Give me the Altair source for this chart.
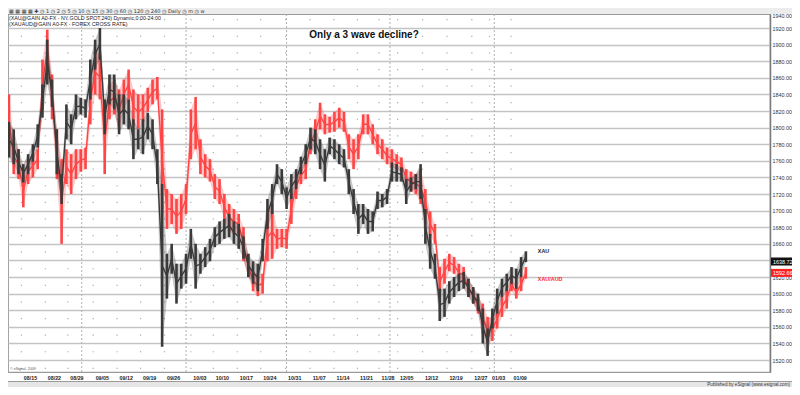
import altair as alt
import pandas as pd

# ---- data (one sample per trading day) ----
xau_hi = [1807,1798,1774,1756,1768,1780,1804,1852,1906,1858,
          1798,1744,1828,1816,1840,1836,1834,1882,1906,1920,
          1834,1864,1864,1840,1840,1834,1810,1798,1810,1818,
          1810,1774,1732,1648,1660,1636,1636,1648,1678,1660,
          1648,1656,1666,1680,1687,1690,1696,1687,1684,1669,
          1648,1639,1636,1666,1714,1732,1756,1750,1728,1744,
          1750,1765,1780,1800,1798,1786,1774,1788,1786,1780,
          1774,1750,1726,1708,1708,1702,1699,1723,1720,1726,
          1758,1756,1752,1738,1740,1744,1756,1702,1672,1648,
          1606,1606,1615,1620,1624,1626,1618,1608,1600,1582,
          1558,1582,1606,1618,1624,1632,1630,1644,1651]
xau_lo = [1764,1756,1744,1734,1744,1759,1776,1812,1852,1825,
          1744,1708,1786,1780,1810,1816,1812,1834,1870,1882,
          1792,1828,1822,1792,1804,1798,1762,1774,1768,1786,
          1774,1732,1536,1594,1624,1588,1606,1612,1642,1606,
          1624,1632,1639,1656,1660,1666,1668,1660,1654,1642,
          1620,1612,1603,1639,1678,1696,1732,1720,1702,1714,
          1726,1744,1756,1774,1768,1750,1735,1768,1762,1756,
          1752,1720,1696,1672,1684,1672,1675,1702,1704,1708,
          1735,1735,1735,1708,1723,1726,1714,1660,1630,1618,
          1567,1572,1588,1596,1603,1606,1596,1588,1579,1540,
          1525,1558,1576,1596,1603,1612,1606,1620,1638]
aud_hi = [1840,1786,1774,1744,1762,1768,1774,1882,1918,1864,
          1798,1762,1774,1768,1774,1774,1776,1858,1894,1888,
          1822,1852,1858,1846,1858,1870,1846,1840,1840,1848,
          1858,1861,1822,1726,1720,1714,1720,1732,1822,1837,
          1786,1768,1762,1744,1738,1720,1708,1702,1696,1680,
          1648,1627,1624,1624,1696,1708,1678,1678,1678,1720,
          1744,1752,1762,1792,1810,1830,1816,1813,1819,1824,
          1819,1792,1786,1792,1816,1816,1804,1792,1786,1776,
          1774,1768,1764,1750,1747,1744,1750,1726,1699,1684,
          1632,1642,1648,1644,1636,1632,1618,1606,1596,1588,
          1572,1570,1582,1596,1606,1620,1608,1620,1632]
aud_lo = [1774,1744,1738,1704,1732,1740,1750,1822,1870,1810,
          1738,1660,1732,1720,1738,1747,1750,1804,1840,1834,
          1744,1810,1816,1798,1822,1834,1804,1798,1807,1819,
          1828,1834,1702,1678,1684,1672,1678,1696,1762,1774,
          1744,1740,1735,1714,1708,1690,1675,1672,1672,1639,
          1620,1603,1597,1600,1639,1642,1654,1656,1654,1684,
          1714,1732,1738,1768,1780,1798,1792,1794,1795,1800,
          1795,1762,1750,1762,1792,1792,1780,1768,1762,1756,
          1752,1750,1747,1728,1723,1720,1708,1696,1669,1660,
          1596,1612,1627,1624,1615,1612,1596,1588,1576,1552,
          1540,1543,1558,1572,1582,1603,1594,1603,1618]

xau_last = 1638.72
aud_last_text = "1592.66"

tick_labels = ["08/15","08/22","08/29","09/05","09/12","09/19","09/26","10/03",
               "10/10","10/17","10/24","10/31","11/07","11/14","11/21","11/28",
               "12/05","12/12","12/19","12/27","01/03","01/09"]
tick_pos = [4.5,9.5,14.2,19.5,24.5,29.4,34.4,39.9,44.6,49.6,54.5,59.7,64.8,
            69.8,74.7,79.2,83.1,88.3,93.4,98.6,102.3,106.8]
month_lines = [15.2, 37.0, 58.0, 79.6, 101.4]
y_ticks = list(range(1520, 1921, 20))

W, H = 762, 358
FONT = "Liberation Sans"

xs = alt.Scale(domain=[-0.2, 159.0], nice=False, zero=False)
ys = alt.Scale(domain=[1505.6, 1936.9], nice=False, zero=False)
yaxis = alt.Axis(orient="right", values=y_ticks, format=".2f", labelFontSize=5.4,
                 labelFont=FONT, labelColor="#333333", ticks=False, labelPadding=2,
                 domainColor="#7a7a7a", domainWidth=1.5, grid=True,
                 gridColor="#c4c4c4", gridWidth=1.4, title=None)


def X(f):
    return alt.X(f, type="quantitative", scale=xs, axis=None, title=None)


def Y(f):
    return alt.Y(f, type="quantitative", scale=ys, axis=yaxis, title=None)


n = len(xau_hi)
black = pd.DataFrame({"k": list(range(n)), "hi": xau_hi, "lo": xau_lo})
black["mid"] = (black.hi + black.lo) / 2
red = pd.DataFrame({"k": list(range(n)), "hi": aud_hi, "lo": aud_lo})
red["mid"] = (red.hi + red.lo) / 2

ticks = pd.DataFrame({"k": tick_pos, "lab": tick_labels})
dots = pd.DataFrame([{"k": t - 1.9, "v": v} for t in tick_pos
                     for v in range(1510, 1931, 20)])
months = pd.DataFrame({"k": month_lines})
one = pd.DataFrame({"a": [0]})

BLACK = "#3a3a3a"
RED = "#ff4545"

grid_layer = alt.Chart(dots).mark_square(size=1.5, color="#9a9a9a", opacity=0.8).encode(
    x=X("k"), y=Y("v"))
month_layer = alt.Chart(months).mark_rule(color="#b0b0b0", strokeDash=[2, 2], strokeWidth=1).encode(
    x=X("k"))


def series(df, color):
    band = alt.Chart(df).mark_area(color=color, opacity=0.28).encode(
        x=X("k"), y=Y("lo"), y2="hi")
    rules = alt.Chart(df).mark_rule(color=color, strokeWidth=2.6).encode(
        x=X("k"), y=Y("lo"), y2="hi")
    line = alt.Chart(df).mark_line(color=color, strokeWidth=1.4).encode(
        x=X("k"), y=Y("mid"))
    return [band, rules, line]


last_blk = pd.DataFrame({"v": [xau_last], "t": [f"{xau_last:.2f}"]})
last_red = pd.DataFrame({"v": [(aud_hi[-1] + aud_lo[-1]) / 2], "t": [aud_last_text]})
box_b = alt.Chart(last_blk).mark_rule(color="#111111", strokeWidth=8).encode(
    x=alt.value(W + 1), x2=alt.value(W + 22), y=Y("v"))
box_b_t = alt.Chart(last_blk).mark_text(color="white", fontSize=5.4, font=FONT, align="left",
                                        baseline="middle", dx=2).encode(
    x=alt.value(W + 1), y=Y("v"), text="t:N")
box_r = alt.Chart(last_red).mark_rule(color="#ff2020", strokeWidth=8).encode(
    x=alt.value(W + 1), x2=alt.value(W + 22), y=Y("v"))
box_r_t = alt.Chart(last_red).mark_text(color="white", fontSize=5.4, font=FONT, align="left",
                                        baseline="middle", dx=2).encode(
    x=alt.value(W + 1), y=Y("v"), text="t:N")

ann_b = pd.DataFrame({"k": [n + 1.5], "v": [xau_hi[-1]], "t": ["XAU"]})
ann_r = pd.DataFrame({"k": [n + 1.5], "v": [aud_lo[-1]], "t": ["XAU/AUD"]})
ann_b_l = alt.Chart(ann_b).mark_text(color="#222222", fontSize=5.4, font=FONT, fontWeight="bold",
                                     align="left", baseline="middle").encode(
    x=X("k"), y=Y("v"), text="t:N")
ann_r_l = alt.Chart(ann_r).mark_text(color="#ff2a2a", fontSize=5.4, font=FONT, fontWeight="bold",
                                     align="left", baseline="middle").encode(
    x=X("k"), y=Y("v"), text="t:N")

xlabels = alt.Chart(ticks).mark_text(fontSize=5.3, font=FONT, fontWeight="bold", color="#222222",
                                     baseline="middle").encode(
    x=X("k"), y=alt.value(H + 5.5), text="lab:N")

toolbar = alt.Chart(one).mark_rect(color="#ececec").encode(
    x=alt.value(0), x2=alt.value(W + 22), y=alt.value(-6), y2=alt.value(0))
toolbar_t = alt.Chart(one).mark_text(
    text="▦ ▦ ▦ ▦ ✚  ◷ 1   ◷ 2   ◷ 5   ◷ 10   ◷ 15   ◷ 30   ◷ 60   ◷ 120   ◷ 240   ◷ Daily   ◷ m   ◷ w",
    fontSize=5, font="DejaVu Sans", color="#333333", align="left", baseline="middle").encode(
    x=alt.value(1), y=alt.value(-3))

status = alt.Chart(one).mark_rect(color="#e6e6e6").encode(
    x=alt.value(0), x2=alt.value(W + 22), y=alt.value(H + 9.5), y2=alt.value(H + 15))
status_line = alt.Chart(one).mark_rule(color="#9a9a9a", strokeWidth=1.2).encode(
    x=alt.value(0), x2=alt.value(W + 22), y=alt.value(H + 9.5))
status_t = alt.Chart(one).mark_text(text="Published by eSignal (www.esignal.com)", fontSize=4.6,
                                    font=FONT, color="#333333", align="right",
                                    baseline="middle").encode(
    x=alt.value(W + 20), y=alt.value(H + 12.5))

hdr1 = alt.Chart(one).mark_text(text="(XAU@GAIN A0-FX - NY GOLD SPOT,240) Dynamic,0:00-24:00",
                                fontSize=5.3, font=FONT, color="#222222", align="left",
                                baseline="middle").encode(x=alt.value(1), y=alt.value(3.5))
hdr2 = alt.Chart(one).mark_text(text="(XAUAUD@GAIN A0-FX - FOREX CROSS RATE)",
                                fontSize=5.3, font=FONT, color="#222222", align="left",
                                baseline="middle").encode(x=alt.value(1), y=alt.value(10))
title = alt.Chart(one).mark_text(text="Only a 3 wave decline?", fontSize=10, font=FONT,
                                 fontWeight="bold", color="#111111", align="center",
                                 baseline="middle").encode(x=alt.value(356), y=alt.value(21))
top_lab = alt.Chart(one).mark_text(text="1940.00", fontSize=5.4, font=FONT, color="#333333",
                                   align="left", baseline="middle").encode(
    x=alt.value(W + 2.5), y=alt.value(2))
copy_t = alt.Chart(one).mark_text(text="© eSignal, 2009", fontSize=3.6, font=FONT,
                                  color="#555555", align="left", baseline="middle").encode(
    x=alt.value(2), y=alt.value(H - 3))

chart = alt.layer(
    grid_layer, month_layer, *series(red, RED), *series(black, BLACK),
    box_b, box_b_t, box_r, box_r_t, ann_b_l, ann_r_l, xlabels,
    toolbar, toolbar_t, status, status_line, status_t, hdr1, hdr2, title, top_lab, copy_t
).properties(
    width=W, height=H,
    padding={"left": 0, "top": 6, "right": 22, "bottom": 15},
    autosize=alt.AutoSizeParams(type="none"),
    background="white",
).configure_view(stroke="#9a9a9a", strokeWidth=1.2)

chart.save("out.html", embed_options={"renderer": "svg", "actions": False})
